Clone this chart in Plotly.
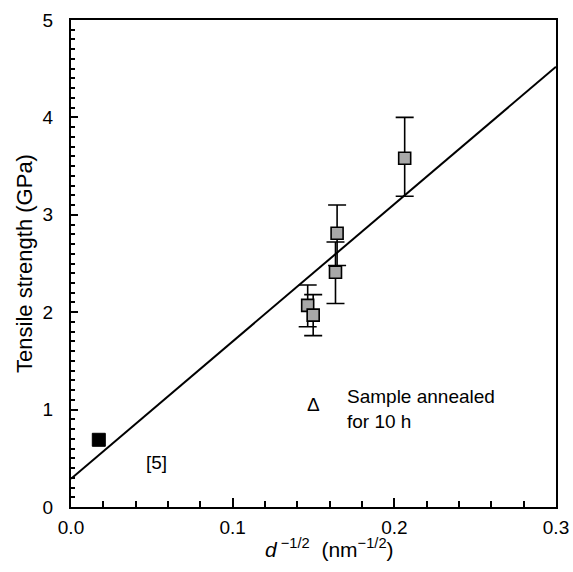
import plotly.graph_objects as go

# Data
sample_x = [0.2064, 0.1646, 0.1636, 0.1464, 0.1498]
sample_y = [3.58, 2.81, 2.41, 2.07, 1.97]
err_plus = [0.42, 0.29, 0.31, 0.21, 0.21]
err_minus = [0.39, 0.33, 0.32, 0.22, 0.21]

ref_x = [0.0172]
ref_y = [0.69]

fit_x = [0.0, 0.3]
fit_y = [0.29, 4.52]

x_ticks = [0.0, 0.1, 0.2, 0.3]
x_tick_labels = ["0.0", "0.1", "0.2", "0.3"]
y_ticks = [0, 1, 2, 3, 4, 5]
y_tick_labels = ["0", "1", "2", "3", "4", "5"]

FONT = "Liberation Sans, Arial, sans-serif"

fig = go.Figure()

fig.add_trace(go.Scatter(
    x=fit_x, y=fit_y, mode="lines",
    line=dict(color="black", width=2),
    showlegend=False, hoverinfo="skip",
))

fig.add_trace(go.Scatter(
    x=sample_x, y=sample_y, mode="markers",
    marker=dict(symbol="square", size=12, color="#a8a8a8",
                line=dict(color="black", width=1.6)),
    error_y=dict(type="data", symmetric=False, array=err_plus,
                 arrayminus=err_minus, color="black", thickness=1.6, width=9),
    showlegend=False,
))

fig.add_trace(go.Scatter(
    x=ref_x, y=ref_y, mode="markers",
    marker=dict(symbol="square", size=13, color="black",
                line=dict(color="black", width=1)),
    showlegend=False,
))

fig.add_annotation(x=0.053, y=0.46, text="[5]", showarrow=False,
                   font=dict(family=FONT, size=19, color="black"))
fig.add_annotation(x=0.1497, y=1.05, text="Δ", showarrow=False,
                   font=dict(family=FONT, size=19, color="black"))
fig.add_annotation(x=0.1695, y=1.01, xanchor="left", yanchor="middle",
                   text="Sample annealed<br>for 10 h", showarrow=False, align="left",
                   font=dict(family=FONT, size=19, color="black"))
# x-axis title
fig.add_annotation(x=0.1596, y=-0.084, xref="x", yref="paper",
                   xanchor="center", yanchor="middle",
                   text="<i>d</i><sup> −1/2</sup>  (nm<sup>−1/2</sup>)", showarrow=False,
                   font=dict(family=FONT, size=21, color="black"))

fig.update_layout(
    width=573, height=572,
    margin=dict(l=71, r=17, t=20, b=65, autoexpand=False),
    paper_bgcolor="white", plot_bgcolor="white",
    font=dict(family=FONT, size=18, color="black"),
    xaxis=dict(
        range=[0, 0.3], tickvals=x_ticks, ticktext=x_tick_labels,
        showgrid=False, zeroline=False, automargin=False,
        showline=True, linecolor="black", linewidth=2, mirror=True,
        ticks="inside", ticklen=9, tickwidth=2, tickcolor="black",
        minor=dict(dtick=0.02, tick0=0, ticks="inside", ticklen=6,
                   tickwidth=1.5, tickcolor="black", showgrid=False),
        tickfont=dict(size=19),
        ticklabelstandoff=2,
    ),
    yaxis=dict(
        range=[0, 5], tickvals=y_ticks, ticktext=y_tick_labels,
        showgrid=False, zeroline=False, automargin=False,
        showline=True, linecolor="black", linewidth=2, mirror=True,
        ticks="inside", ticklen=7, tickwidth=2, tickcolor="black",
        minor=dict(dtick=0.1, tick0=0, ticks="inside", ticklen=4,
                   tickwidth=1.5, tickcolor="black", showgrid=False),
        tickfont=dict(size=19),
        ticklabelstandoff=12,
        title=dict(text="Tensile strength (GPa)", font=dict(size=22), standoff=4),
    ),
)

fig.write_html("out.html", config={"displayModeBar": False},
               post_script="document.body.style.margin='0';")
